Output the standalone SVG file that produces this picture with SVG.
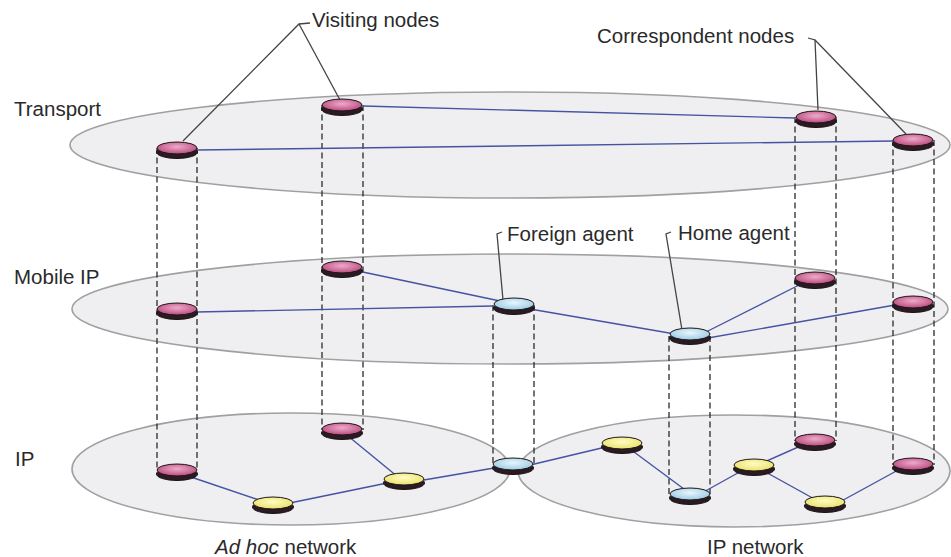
<svg xmlns="http://www.w3.org/2000/svg" width="951" height="557" viewBox="0 0 951 557">
  <defs>
    <radialGradient id="gPink" cx="50%" cy="40%" r="60%">
      <stop offset="0" stop-color="#eeaacb"/>
      <stop offset="1" stop-color="#b94a7c"/>
    </radialGradient>
    <radialGradient id="gBlue" cx="50%" cy="40%" r="60%">
      <stop offset="0" stop-color="#e6f6fd"/>
      <stop offset="1" stop-color="#9ccbe3"/>
    </radialGradient>
    <radialGradient id="gYellow" cx="50%" cy="40%" r="60%">
      <stop offset="0" stop-color="#fffcc4"/>
      <stop offset="1" stop-color="#e9e26a"/>
    </radialGradient>
    <style>
      .layer { fill: #efeff2; stroke: #a0a0a2; stroke-width: 1.6; }
      .pillar { fill: none; stroke: #2a2a2a; stroke-width: 1.3; stroke-dasharray: 6 3.5; }
      .link { fill: none; stroke: #4553a0; stroke-width: 1.4; }
      .leader { fill: none; stroke: #444; stroke-width: 1.3; }
      .base { fill: #2a1b22; stroke: #1a1014; stroke-width: 1; }
      .top { stroke: #1e1418; stroke-width: 1; }
      .pink .top { fill: url(#gPink); }
      .blue .top { fill: url(#gBlue); }
      .yellow .top { fill: url(#gYellow); }
      text { font-family: "Liberation Sans", Arial, sans-serif; font-size: 20.5px; fill: #2a2a2a; }
    </style>
  </defs>

  <rect width="951" height="557" fill="#ffffff"/>

  <!-- layer planes -->
  <g id="layers">
    <ellipse id="plane-transport" class="layer" cx="510" cy="145" rx="440" ry="53"/>
    <ellipse id="plane-mobile" class="layer" cx="510" cy="309" rx="438" ry="55"/>
    <ellipse id="plane-adhoc" class="layer" cx="291" cy="469" rx="219" ry="56"/>
    <ellipse id="plane-ipnet" class="layer" cx="734" cy="471" rx="216" ry="56"/>
  </g>

  <!-- layer and network labels -->
  <g id="labels">
    <text x="14" y="116">Transport</text>
    <text x="14" y="284">Mobile IP</text>
    <text x="15" y="466">IP</text>
    <text x="215" y="554"><tspan font-style="italic">Ad hoc</tspan> network</text>
    <text x="707" y="554">IP network</text>
  </g>

  <!-- connectors: vertical pillars, links, and callout leaders -->
  <g id="connectors">
    <g id="pillars">
      <line class="pillar" x1="157" y1="148" x2="157" y2="471"/>
      <line class="pillar" x1="197" y1="148" x2="197" y2="471"/>
      <line class="pillar" x1="322" y1="105" x2="322" y2="430"/>
      <line class="pillar" x1="363" y1="105" x2="363" y2="430"/>
      <line class="pillar" x1="795" y1="117" x2="795" y2="441"/>
      <line class="pillar" x1="836" y1="117" x2="836" y2="441"/>
      <line class="pillar" x1="893" y1="140" x2="893" y2="465"/>
      <line class="pillar" x1="934" y1="140" x2="934" y2="465"/>
      <line class="pillar" x1="493" y1="305" x2="493" y2="465"/>
      <line class="pillar" x1="534" y1="305" x2="534" y2="465"/>
      <line class="pillar" x1="669" y1="336" x2="669" y2="495"/>
      <line class="pillar" x1="710" y1="336" x2="710" y2="495"/>
    </g>
    <g id="links">
      <!-- transport -->
      <line class="link" x1="363" y1="106" x2="795" y2="118"/>
      <line class="link" x1="197" y1="150" x2="893" y2="141"/>
      <!-- mobile IP -->
      <line class="link" x1="197" y1="312" x2="493" y2="306"/>
      <line class="link" x1="358" y1="271" x2="500" y2="301"/>
      <line class="link" x1="530" y1="309" x2="675" y2="334"/>
      <line class="link" x1="704" y1="333" x2="803" y2="283"/>
      <line class="link" x1="708" y1="338" x2="895" y2="305"/>
      <!-- IP: ad hoc network -->
      <line class="link" x1="188" y1="476" x2="265" y2="502"/>
      <line class="link" x1="285" y1="504" x2="392" y2="482"/>
      <line class="link" x1="348" y1="436" x2="398" y2="477"/>
      <line class="link" x1="418" y1="481" x2="500" y2="467"/>
      <!-- IP: IP network -->
      <line class="link" x1="526" y1="466" x2="610" y2="446"/>
      <line class="link" x1="630" y1="449" x2="688" y2="492"/>
      <line class="link" x1="700" y1="494" x2="745" y2="469"/>
      <line class="link" x1="762" y1="463" x2="805" y2="444"/>
      <line class="link" x1="762" y1="470" x2="818" y2="501"/>
      <line class="link" x1="836" y1="504" x2="900" y2="469"/>
    </g>
    <g id="leaders">
      <polyline class="leader" points="310,23 299,24 183,141"/>
      <line class="leader" x1="299" y1="24" x2="340" y2="100"/>
      <polyline class="leader" points="808,38 815,40 818,110"/>
      <line class="leader" x1="815" y1="40" x2="906" y2="134"/>
      <polyline class="leader" points="502,232 497,234 503,300"/>
      <polyline class="leader" points="671,232 666,234 682,330"/>
    </g>
  </g>

  <!-- callout text -->
  <g id="callouts">
    <text x="312" y="27">Visiting nodes</text>
    <text x="597" y="43">Correspondent nodes</text>
    <text x="507" y="241">Foreign agent</text>
    <text x="678" y="240">Home agent</text>
  </g>

  <!-- transport layer nodes -->
  <g id="t-visit-1" class="node pink" transform="translate(177,148)"><ellipse class="base" cx="0" cy="4" rx="20.5" ry="6.5"/><ellipse class="top" cx="0" cy="0" rx="20" ry="6"/></g>
  <g id="t-visit-2" class="node pink" transform="translate(342,105)"><ellipse class="base" cx="0" cy="4" rx="20.5" ry="6.5"/><ellipse class="top" cx="0" cy="0" rx="20" ry="6"/></g>
  <g id="t-corr-1" class="node pink" transform="translate(816,117)"><ellipse class="base" cx="0" cy="4" rx="20.5" ry="6.5"/><ellipse class="top" cx="0" cy="0" rx="20" ry="6"/></g>
  <g id="t-corr-2" class="node pink" transform="translate(913,140)"><ellipse class="base" cx="0" cy="4" rx="20.5" ry="6.5"/><ellipse class="top" cx="0" cy="0" rx="20" ry="6"/></g>

  <!-- mobile IP layer nodes -->
  <g id="m-visit-1" class="node pink" transform="translate(177,309)"><ellipse class="base" cx="0" cy="4" rx="20.5" ry="6.5"/><ellipse class="top" cx="0" cy="0" rx="20" ry="6"/></g>
  <g id="m-visit-2" class="node pink" transform="translate(342,267)"><ellipse class="base" cx="0" cy="4" rx="20.5" ry="6.5"/><ellipse class="top" cx="0" cy="0" rx="20" ry="6"/></g>
  <g id="m-foreign" class="node blue" transform="translate(514,304)"><ellipse class="base" cx="0" cy="4" rx="20.5" ry="6.5"/><ellipse class="top" cx="0" cy="0" rx="20" ry="6"/></g>
  <g id="m-home" class="node blue" transform="translate(690,334)"><ellipse class="base" cx="0" cy="4" rx="20.5" ry="6.5"/><ellipse class="top" cx="0" cy="0" rx="20" ry="6"/></g>
  <g id="m-corr-1" class="node pink" transform="translate(815,278)"><ellipse class="base" cx="0" cy="4" rx="20.5" ry="6.5"/><ellipse class="top" cx="0" cy="0" rx="20" ry="6"/></g>
  <g id="m-corr-2" class="node pink" transform="translate(913,302)"><ellipse class="base" cx="0" cy="4" rx="20.5" ry="6.5"/><ellipse class="top" cx="0" cy="0" rx="20" ry="6"/></g>

  <!-- IP layer nodes -->
  <g id="i-visit-1" class="node pink" transform="translate(177,470)"><ellipse class="base" cx="0" cy="4" rx="20.5" ry="6.5"/><ellipse class="top" cx="0" cy="0" rx="20" ry="6"/></g>
  <g id="i-visit-2" class="node pink" transform="translate(342,429)"><ellipse class="base" cx="0" cy="4" rx="20.5" ry="6.5"/><ellipse class="top" cx="0" cy="0" rx="20" ry="6"/></g>
  <g id="i-adhoc-1" class="node yellow" transform="translate(273,503)"><ellipse class="base" cx="0" cy="4" rx="20.5" ry="6.5"/><ellipse class="top" cx="0" cy="0" rx="20" ry="6"/></g>
  <g id="i-adhoc-2" class="node yellow" transform="translate(404,479)"><ellipse class="base" cx="0" cy="4" rx="20.5" ry="6.5"/><ellipse class="top" cx="0" cy="0" rx="20" ry="6"/></g>
  <g id="i-foreign" class="node blue" transform="translate(513,464)"><ellipse class="base" cx="0" cy="4" rx="20.5" ry="6.5"/><ellipse class="top" cx="0" cy="0" rx="20" ry="6"/></g>
  <g id="i-router-1" class="node yellow" transform="translate(622,443)"><ellipse class="base" cx="0" cy="4" rx="20.5" ry="6.5"/><ellipse class="top" cx="0" cy="0" rx="20" ry="6"/></g>
  <g id="i-home" class="node blue" transform="translate(690,494)"><ellipse class="base" cx="0" cy="4" rx="20.5" ry="6.5"/><ellipse class="top" cx="0" cy="0" rx="20" ry="6"/></g>
  <g id="i-router-2" class="node yellow" transform="translate(754,465)"><ellipse class="base" cx="0" cy="4" rx="20.5" ry="6.5"/><ellipse class="top" cx="0" cy="0" rx="20" ry="6"/></g>
  <g id="i-corr-1" class="node pink" transform="translate(815,440)"><ellipse class="base" cx="0" cy="4" rx="20.5" ry="6.5"/><ellipse class="top" cx="0" cy="0" rx="20" ry="6"/></g>
  <g id="i-router-3" class="node yellow" transform="translate(825,502)"><ellipse class="base" cx="0" cy="4" rx="20.5" ry="6.5"/><ellipse class="top" cx="0" cy="0" rx="20" ry="6"/></g>
  <g id="i-corr-2" class="node pink" transform="translate(913,464)"><ellipse class="base" cx="0" cy="4" rx="20.5" ry="6.5"/><ellipse class="top" cx="0" cy="0" rx="20" ry="6"/></g>
</svg>
